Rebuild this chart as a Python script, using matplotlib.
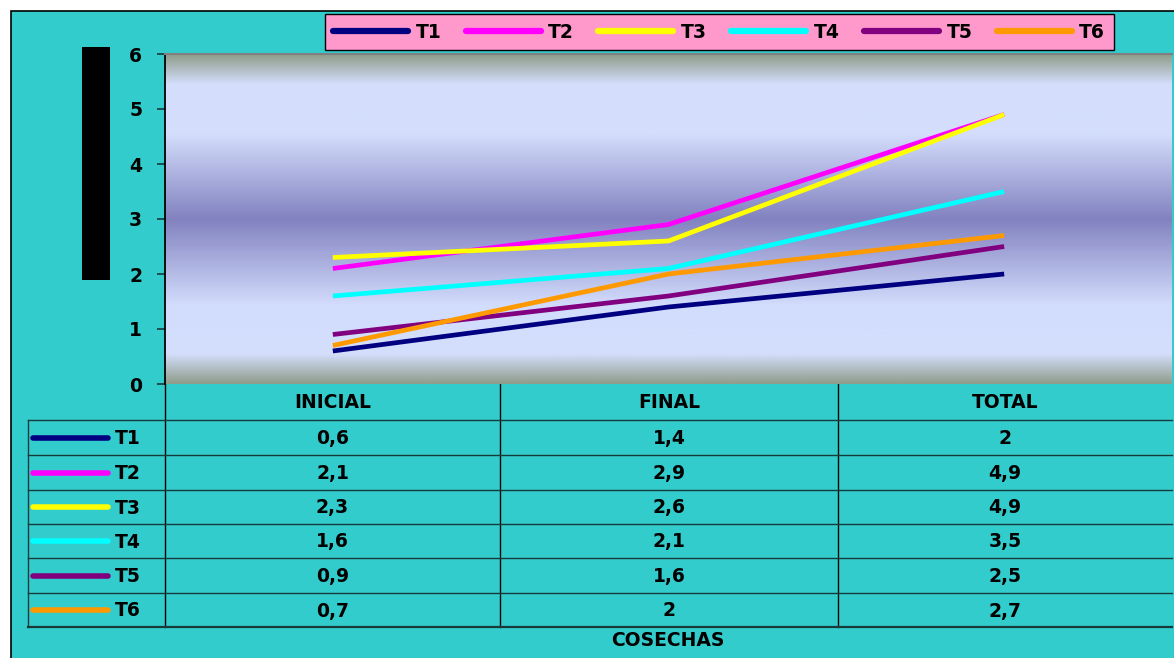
import numpy as np
import matplotlib
matplotlib.use("Agg")
import matplotlib.pyplot as plt
from matplotlib.colors import LinearSegmentedColormap
from matplotlib.lines import Line2D
from matplotlib.patches import Rectangle

# ---- data ----
categories = ["INICIAL", "FINAL", "TOTAL"]
series_names = ["T1", "T2", "T3", "T4", "T5", "T6"]
T1 = [0.6, 1.4, 2.0]
T2 = [2.1, 2.9, 4.9]
T3 = [2.3, 2.6, 4.9]
T4 = [1.6, 2.1, 3.5]
T5 = [0.9, 1.6, 2.5]
T6 = [0.7, 2.0, 2.7]
series_values = [T1, T2, T3, T4, T5, T6]
series_colors = ["#000080", "#FF00FF", "#FFFF00", "#00FFFF", "#800080", "#FF9900"]
y_ticks = [0, 1, 2, 3, 4, 5, 6]
x_title = "COSECHAS"

def fmt(v):
    s = ("%g" % v)
    return s.replace(".", ",")

W, H = 1174, 658
plt.rcParams["font.family"] = ["DejaVu Sans"]
fig = plt.figure(figsize=(W / 100, H / 100), dpi=100)
fig.patch.set_facecolor("white")
FS = 13.5
FONT = dict(fontweight="bold", color="black", fontsize=FS)

# overlay axes in pixel coords for background, table, decorations
bg = fig.add_axes([0, 0, 1, 1])
bg.set_xlim(0, W)
bg.set_ylim(H, 0)
bg.axis("off")
bg.add_patch(Rectangle((11, 11), W, H, facecolor="#33CCCC", edgecolor="black", lw=1.2, zorder=0))

# main plot area
L, R, T, B = 165, 1172, 54, 384
ax = fig.add_axes([L / W, 1 - B / H, (R - L) / W, (B - T) / H])
x = np.arange(len(categories))
ax.set_xlim(-0.5, len(categories) - 0.5)
ax.set_ylim(0, 6)

grad = LinearSegmentedColormap.from_list("g", [
    (0.0, "#8f9d8b"), (0.09, "#d4defc"), (0.24, "#d4defc"),
    (0.5, "#8282c0"), (0.76, "#d2dcfc"), (0.91, "#d4defc"), (1.0, "#8f9d8b")])
ax.imshow(np.linspace(0, 1, 256).reshape(-1, 1), cmap=grad, aspect="auto",
          extent=[-0.5, len(categories) - 0.5, 0, 6], origin="upper", zorder=0)

for name, vals, col in zip(series_names, series_values, series_colors):
    ax.plot(x, vals, color=col, lw=3.4, label=name, zorder=3, solid_capstyle="butt")

ax.set_yticks(y_ticks)
ax.set_yticklabels([str(t) for t in y_ticks], fontsize=FS, fontweight="bold")
ax.tick_params(axis="y", direction="out", length=6, width=1.2, pad=10.5, color="#1a3a3a")
ax.set_xticks([])
for s in ["top", "right", "bottom"]:
    ax.spines[s].set_visible(False)
ax.spines["left"].set_linewidth(1.3)
ax.plot([-0.5, 2.5], [6, 6], color="#808080", lw=1.5, clip_on=False, zorder=4)

# black box over y-axis title
bg.add_patch(Rectangle((82, 47), 28, 233, facecolor="black", edgecolor="none", zorder=5))

# legend
handles = [Line2D([0], [0], color=c, lw=4.5, solid_capstyle="round") for c in series_colors]
leg = fig.legend(handles, series_names, loc="center", ncol=6,
                 bbox_to_anchor=((326 + 1112) / 2 / W, 1 - 32 / H),
                 prop=dict(family="DejaVu Sans", weight="bold", size=FS),
                 frameon=True, facecolor="#FF99CC", edgecolor="black", framealpha=1,
                 fancybox=False, handlelength=4.0, handletextpad=0.4, columnspacing=1.3,
                 borderpad=0.45, borderaxespad=0)
leg.get_frame().set_linewidth(1.0)

# data table
col_edges = [165, 500, 838, 1172]
row_edges = [384, 420, 455, 490, 524, 558, 593, 627]
lc = "#173b3b"
for xe in col_edges[:-1]:
    bg.plot([xe, xe], [row_edges[0], row_edges[-1]], color="black", lw=1.0, zorder=2)
bg.plot([28, 28], [row_edges[1], row_edges[-1]], color=lc, lw=1.0, zorder=2)
for i, ye in enumerate(row_edges[1:]):
    bg.plot([28, 1172], [ye, ye], color=lc, lw=1.6 if i == len(row_edges) - 2 else 1.0, zorder=2)
for j, cat in enumerate(categories):
    cx = (col_edges[j] + col_edges[j + 1]) / 2
    bg.text(cx, (row_edges[0] + row_edges[1]) / 2 + 1, cat, ha="center", va="center", **FONT)
for i, (name, vals, col) in enumerate(zip(series_names, series_values, series_colors)):
    cy = (row_edges[i + 1] + row_edges[i + 2]) / 2 + 1
    bg.plot([33, 108], [cy - 1, cy - 1], color=col, lw=4.0, solid_capstyle="round", zorder=3)
    bg.text(115, cy, name, ha="left", va="center", **FONT)
    for j, v in enumerate(vals):
        cx = (col_edges[j] + col_edges[j + 1]) / 2
        bg.text(cx, cy, fmt(v), ha="center", va="center", **FONT)

bg.text(668, 641, x_title, ha="center", va="center", **FONT)

fig.savefig("out.png", dpi=100)
